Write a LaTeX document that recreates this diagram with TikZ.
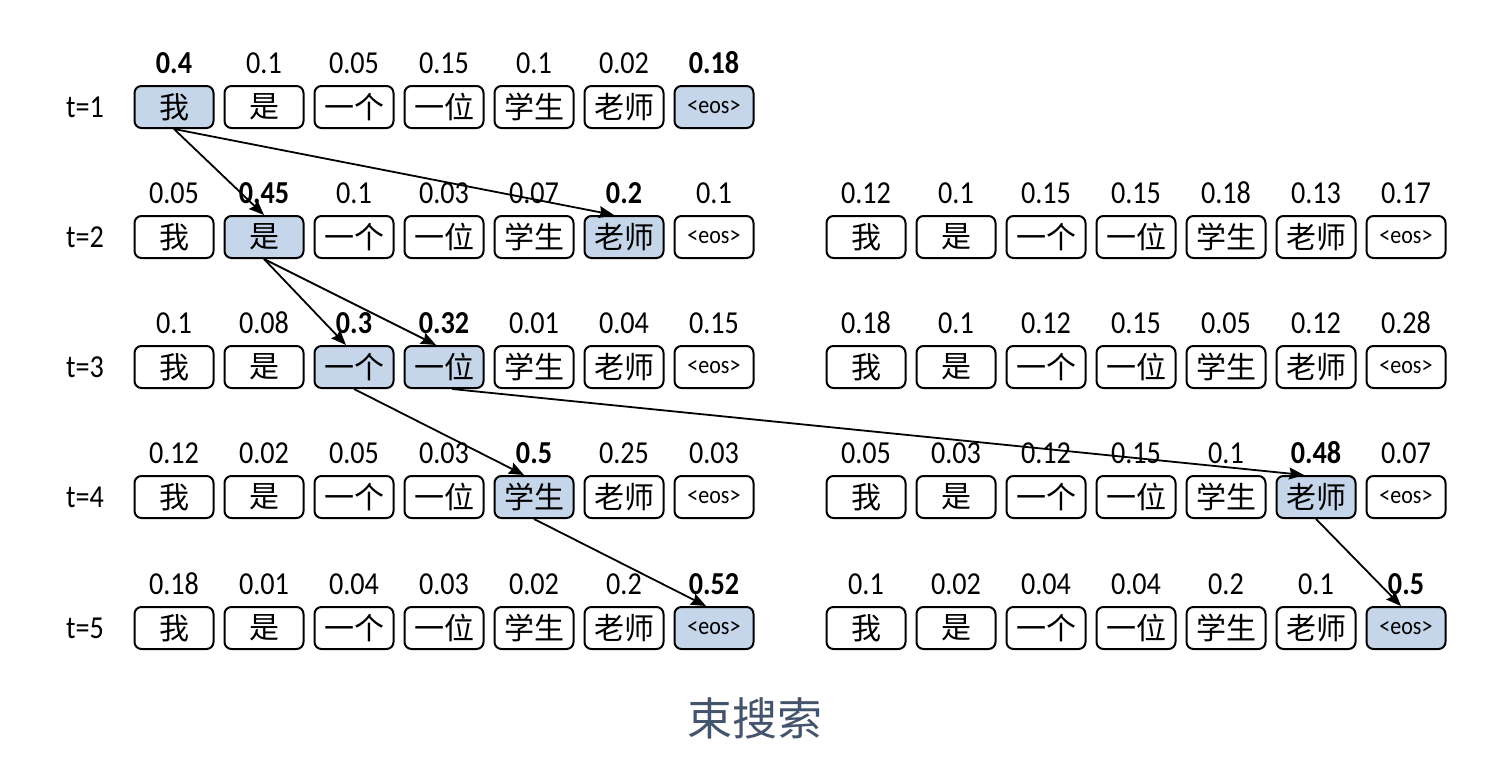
\documentclass[tikz,border=0pt]{standalone}
\usepackage{fontspec}
\setmainfont{Carlito}[FakeStretch=0.88]
\newfontfamily\cjk{Noto Sans CJK SC}
\usetikzlibrary{arrows.meta}
\definecolor{selblue}{HTML}{C6D6EA}
\definecolor{titlegray}{HTML}{44546A}
\newcommand\tokname[1]{\ifcase#1\or 我\or 是\or 一个\or 一位\or 学生\or 老师\or {\normalfont\fontsize{25}{25}\selectfont <eos>}\fi}
\newcommand\tokrow[4]{%
  \foreach \i/\p/\s in {#4} {%
    \pgfmathsetmacro\xx{#2+90*(\i-1)}%
    \ifnum\s=1
      \node[selbox] (#1-\i) at (\xx,#3) {\tokname{\i}};
      \node[prob,font=\fontsize{32}{32}\selectfont\bfseries] (#1-\i p) at (\xx,#3-44) {\p};
    \else
      \node[tokbox] (#1-\i) at (\xx,#3) {\tokname{\i}};
      \node[prob] (#1-\i p) at (\xx,#3-44) {\p};
    \fi
  }%
}
\begin{document}
\begin{tikzpicture}[x=1pt,y=-1pt,
  tokbox/.style={draw=black, line width=2pt, rounded corners=7pt, minimum width=79pt, minimum height=42pt, inner sep=0pt, font=\cjk\fontsize{30}{30}\selectfont},
  selbox/.style={tokbox, fill=selblue},
  prob/.style={font=\fontsize{32}{32}\selectfont, inner sep=0pt},
  tlabel/.style={font=\fontsize{32}{32}\selectfont, inner sep=0pt},
  arr/.style={draw=black, line width=1.8pt, -{Stealth[length=15pt,width=12pt,inset=2pt]}}
]
\useasboundingbox (0,0) rectangle (1490,768);

\node[tlabel] (t1) at (85,107) {t=1};
\node[tlabel] (t2) at (85,237) {t=2};
\node[tlabel] (t3) at (85,367) {t=3};
\node[tlabel] (t4) at (85,497) {t=4};
\node[tlabel] (t5) at (85,628) {t=5};

\tokrow{L1}{174}{107}{1/0.4/1,2/0.1/0,3/0.05/0,4/0.15/0,5/0.1/0,6/0.02/0,7/0.18/1}
\tokrow{L2}{174}{237}{1/0.05/0,2/0.45/1,3/0.1/0,4/0.03/0,5/0.07/0,6/0.2/1,7/0.1/0}
\tokrow{R2}{866}{237}{1/0.12/0,2/0.1/0,3/0.15/0,4/0.15/0,5/0.18/0,6/0.13/0,7/0.17/0}
\tokrow{L3}{174}{367}{1/0.1/0,2/0.08/0,3/0.3/1,4/0.32/1,5/0.01/0,6/0.04/0,7/0.15/0}
\tokrow{R3}{866}{367}{1/0.18/0,2/0.1/0,3/0.12/0,4/0.15/0,5/0.05/0,6/0.12/0,7/0.28/0}
\tokrow{L4}{174}{497}{1/0.12/0,2/0.02/0,3/0.05/0,4/0.03/0,5/0.5/1,6/0.25/0,7/0.03/0}
\tokrow{R4}{866}{497}{1/0.05/0,2/0.03/0,3/0.12/0,4/0.15/0,5/0.1/0,6/0.48/1,7/0.07/0}
\tokrow{L5}{174}{628}{1/0.18/0,2/0.01/0,3/0.04/0,4/0.03/0,5/0.02/0,6/0.2/0,7/0.52/1}
\tokrow{R5}{866}{628}{1/0.1/0,2/0.02/0,3/0.04/0,4/0.04/0,5/0.2/0,6/0.1/0,7/0.5/1}

\draw[arr] (L1-1.south) -- (L2-2.north);
\draw[arr] (L1-1.south) -- ([xshift=-10pt]L2-6.north);
\draw[arr] (L2-2.south) -- ([xshift=-8pt]L3-3.north);
\draw[arr] (L2-2.south) -- ([xshift=-8pt]L3-4.north);
\draw[arr] (L3-3.south) -- ([xshift=-10pt]L4-5.north);
\draw[arr] ([xshift=8pt]L3-4.south) -- ([xshift=-12pt]R4-6.north);
\draw[arr] (L4-5.south) -- ([xshift=-8pt]L5-7.north);
\draw[arr] (R4-6.south) -- ([xshift=-5pt]R5-7.north);

\node[font=\cjk\fontsize{45}{45}\selectfont, text=titlegray, inner sep=0pt] (title) at (755,718) {束搜索};
\end{tikzpicture}
\end{document}
